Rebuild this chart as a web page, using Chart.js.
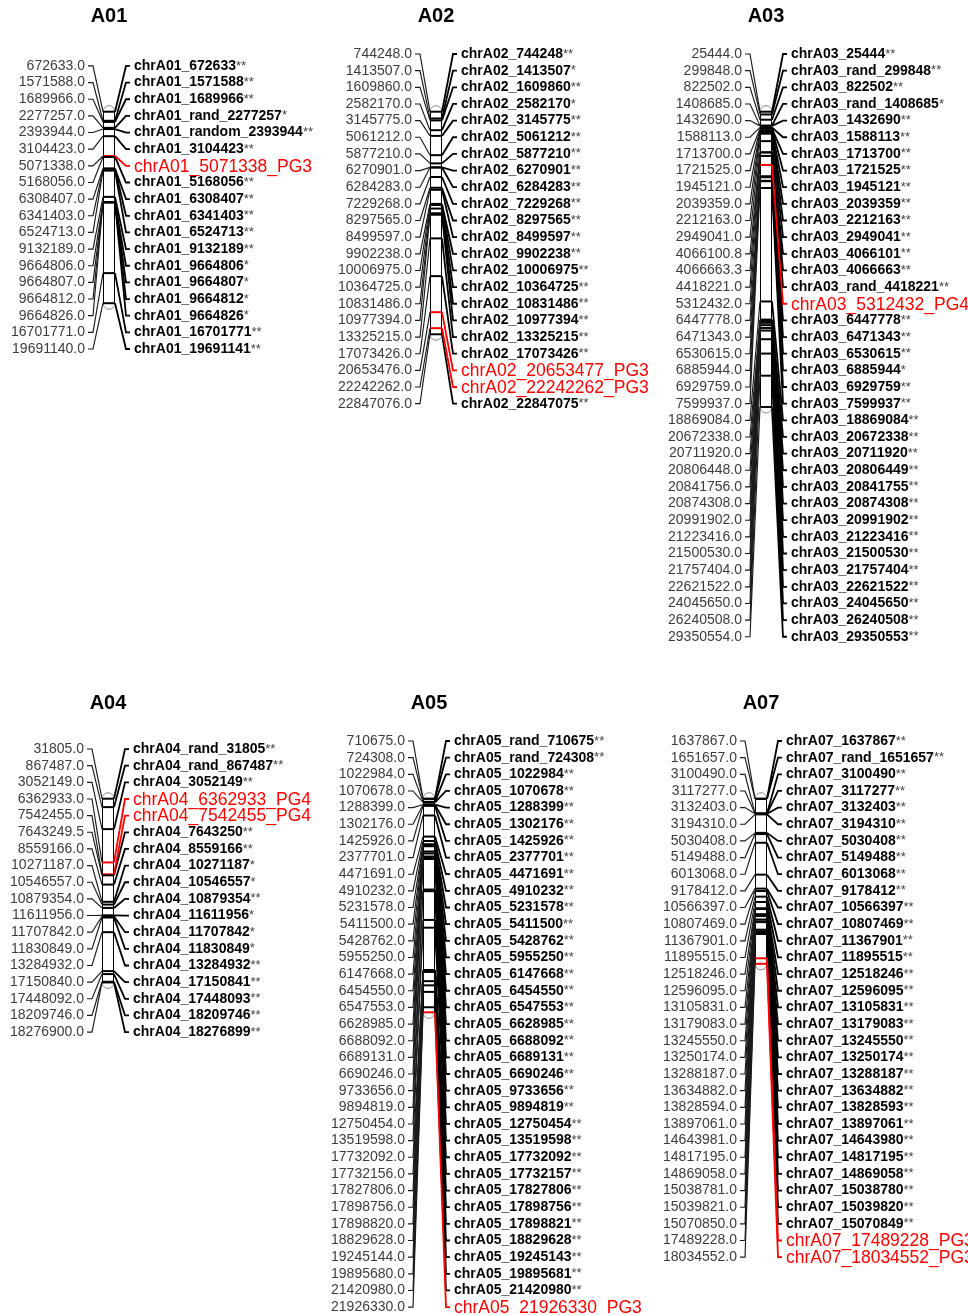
<!DOCTYPE html>
<html lang="en">
<head>
<meta charset="UTF-8">
<title>Linkage map A01 - A07</title>
<script src="https://cdn.jsdelivr.net/npm/chart.js@4"></script>
<style>
  html, body { margin: 0; padding: 0; background: #fff; }
  body { width: 968px; height: 1315px; position: relative; overflow: hidden; }
  canvas { position: absolute; }
</style>
</head>
<body>
<canvas id="cA01" width="330" height="687" style="left:-1px;top:0px"></canvas>
<canvas id="cA02" width="330" height="687" style="left:326px;top:0px"></canvas>
<canvas id="cA03" width="330" height="687" style="left:656px;top:0px"></canvas>
<canvas id="cA04" width="330" height="628" style="left:-2px;top:687px"></canvas>
<canvas id="cA05" width="330" height="628" style="left:319px;top:687px"></canvas>
<canvas id="cA07" width="330" height="628" style="left:651px;top:687px"></canvas>

<script>
// positions (left labels) and marker names (right labels)
const A01_pos = [672633.0, 1571588.0, 1689966.0, 2277257.0, 2393944.0, 3104423.0, 5071338.0, 5168056.0, 6308407.0, 6341403.0, 6524713.0, 9132189.0, 9664806.0, 9664807.0, 9664812.0, 9664826.0, 16701771.0, 19691140.0];
const A01_names = ['chrA01_672633**', 'chrA01_1571588**', 'chrA01_1689966**', 'chrA01_rand_2277257*', 'chrA01_random_2393944**', 'chrA01_3104423**', 'chrA01_5071338_PG3', 'chrA01_5168056**', 'chrA01_6308407**', 'chrA01_6341403**', 'chrA01_6524713**', 'chrA01_9132189**', 'chrA01_9664806*', 'chrA01_9664807*', 'chrA01_9664812*', 'chrA01_9664826*', 'chrA01_16701771**', 'chrA01_19691141**'];

const A02_pos = [744248.0, 1413507.0, 1609860.0, 2582170.0, 3145775.0, 5061212.0, 5877210.0, 6270901.0, 6284283.0, 7229268.0, 8297565.0, 8499597.0, 9902238.0, 10006975.0, 10364725.0, 10831486.0, 10977394.0, 13325215.0, 17073426.0, 20653476.0, 22242262.0, 22847076.0];
const A02_names = ['chrA02_744248**', 'chrA02_1413507*', 'chrA02_1609860**', 'chrA02_2582170*', 'chrA02_3145775**', 'chrA02_5061212**', 'chrA02_5877210**', 'chrA02_6270901**', 'chrA02_6284283**', 'chrA02_7229268**', 'chrA02_8297565**', 'chrA02_8499597**', 'chrA02_9902238**', 'chrA02_10006975**', 'chrA02_10364725**', 'chrA02_10831486**', 'chrA02_10977394**', 'chrA02_13325215**', 'chrA02_17073426**', 'chrA02_20653477_PG3', 'chrA02_22242262_PG3', 'chrA02_22847075**'];

const A03_pos = [25444.0, 299848.0, 822502.0, 1408685.0, 1432690.0, 1588113.0, 1713700.0, 1721525.0, 1945121.0, 2039359.0, 2212163.0, 2949041.0, 4066100.8, 4066663.3, 4418221.0, 5312432.0, 6447778.0, 6471343.0, 6530615.0, 6885944.0, 6929759.0, 7599937.0, 18869084.0, 20672338.0, 20711920.0, 20806448.0, 20841756.0, 20874308.0, 20991902.0, 21223416.0, 21500530.0, 21757404.0, 22621522.0, 24045650.0, 26240508.0, 29350554.0];
const A03_names = ['chrA03_25444**', 'chrA03_rand_299848**', 'chrA03_822502**', 'chrA03_rand_1408685*', 'chrA03_1432690**', 'chrA03_1588113**', 'chrA03_1713700**', 'chrA03_1721525**', 'chrA03_1945121**', 'chrA03_2039359**', 'chrA03_2212163**', 'chrA03_2949041**', 'chrA03_4066101**', 'chrA03_4066663**', 'chrA03_rand_4418221**', 'chrA03_5312432_PG4', 'chrA03_6447778**', 'chrA03_6471343**', 'chrA03_6530615**', 'chrA03_6885944*', 'chrA03_6929759**', 'chrA03_7599937**', 'chrA03_18869084**', 'chrA03_20672338**', 'chrA03_20711920**', 'chrA03_20806449**', 'chrA03_20841755**', 'chrA03_20874308**', 'chrA03_20991902**', 'chrA03_21223416**', 'chrA03_21500530**', 'chrA03_21757404**', 'chrA03_22621522**', 'chrA03_24045650**', 'chrA03_26240508**', 'chrA03_29350553**'];

const A04_pos = [31805.0, 867487.0, 3052149.0, 6362933.0, 7542455.0, 7643249.5, 8559166.0, 10271187.0, 10546557.0, 10879354.0, 11611956.0, 11707842.0, 11830849.0, 13284932.0, 17150840.0, 17448092.0, 18209746.0, 18276900.0];
const A04_names = ['chrA04_rand_31805**', 'chrA04_rand_867487**', 'chrA04_3052149**', 'chrA04_6362933_PG4', 'chrA04_7542455_PG4', 'chrA04_7643250**', 'chrA04_8559166**', 'chrA04_10271187*', 'chrA04_10546557*', 'chrA04_10879354**', 'chrA04_11611956*', 'chrA04_11707842*', 'chrA04_11830849*', 'chrA04_13284932**', 'chrA04_17150841**', 'chrA04_17448093**', 'chrA04_18209746**', 'chrA04_18276899**'];

const A05_pos = [710675.0, 724308.0, 1022984.0, 1070678.0, 1288399.0, 1302176.0, 1425926.0, 2377701.0, 4471691.0, 4910232.0, 5231578.0, 5411500.0, 5428762.0, 5955250.0, 6147668.0, 6454550.0, 6547553.0, 6628985.0, 6688092.0, 6689131.0, 6690246.0, 9733656.0, 9894819.0, 12750454.0, 13519598.0, 17732092.0, 17732156.0, 17827806.0, 17898756.0, 17898820.0, 18829628.0, 19245144.0, 19895680.0, 21420980.0, 21926330.0];
const A05_names = ['chrA05_rand_710675**', 'chrA05_rand_724308**', 'chrA05_1022984**', 'chrA05_1070678**', 'chrA05_1288399**', 'chrA05_1302176**', 'chrA05_1425926**', 'chrA05_2377701**', 'chrA05_4471691**', 'chrA05_4910232**', 'chrA05_5231578**', 'chrA05_5411500**', 'chrA05_5428762**', 'chrA05_5955250**', 'chrA05_6147668**', 'chrA05_6454550**', 'chrA05_6547553**', 'chrA05_6628985**', 'chrA05_6688092**', 'chrA05_6689131**', 'chrA05_6690246**', 'chrA05_9733656**', 'chrA05_9894819**', 'chrA05_12750454**', 'chrA05_13519598**', 'chrA05_17732092**', 'chrA05_17732157**', 'chrA05_17827806**', 'chrA05_17898756**', 'chrA05_17898821**', 'chrA05_18829628**', 'chrA05_19245143**', 'chrA05_19895681**', 'chrA05_21420980**', 'chrA05_21926330_PG3'];

const A07_pos = [1637867.0, 1651657.0, 3100490.0, 3117277.0, 3132403.0, 3194310.0, 5030408.0, 5149488.0, 6013068.0, 9178412.0, 10566397.0, 10807469.0, 11367901.0, 11895515.0, 12518246.0, 12596095.0, 13105831.0, 13179083.0, 13245550.0, 13250174.0, 13288187.0, 13634882.0, 13828594.0, 13897061.0, 14643981.0, 14817195.0, 14869058.0, 15038781.0, 15039821.0, 15070850.0, 17489228.0, 18034552.0];
const A07_names = ['chrA07_1637867**', 'chrA07_rand_1651657**', 'chrA07_3100490**', 'chrA07_3117277**', 'chrA07_3132403**', 'chrA07_3194310**', 'chrA07_5030408**', 'chrA07_5149488**', 'chrA07_6013068**', 'chrA07_9178412**', 'chrA07_10566397**', 'chrA07_10807469**', 'chrA07_11367901**', 'chrA07_11895515**', 'chrA07_12518246**', 'chrA07_12596095**', 'chrA07_13105831**', 'chrA07_13179083**', 'chrA07_13245550**', 'chrA07_13250174**', 'chrA07_13288187**', 'chrA07_13634882**', 'chrA07_13828593**', 'chrA07_13897061**', 'chrA07_14643980**', 'chrA07_14817195**', 'chrA07_14869058**', 'chrA07_15038780**', 'chrA07_15039820**', 'chrA07_15070849**', 'chrA07_17489228_PG3', 'chrA07_18034552_PG3'];

const FONT = '"Liberation Sans", Arial, sans-serif';
const RED = '#ff0000';
const PX_PER_MB = 10.07;   // map scale
const BAR_TOP = 111.7;     // first marker, px below panel top
const LABEL_STEP = 16.65;  // label spacing
const LABEL_TOP = 54;      // highest label
const HALF_BAR = 6;

const isPG = name => /_PG\d$/.test(name);

const mapPlugin = {
  id: 'linkageMap',
  beforeDatasetsDraw(chart) {
    const { ctx, scales: { x, y } } = chart;
    const pos = chart.options.plugins.linkageMap.pos;
    const cx = x.getPixelForValue(0);
    const l = x.getPixelForValue(-HALF_BAR), r = x.getPixelForValue(HALF_BAR);
    const top = y.getPixelForValue(pos[0]), bot = y.getPixelForValue(pos[pos.length - 1]);
    ctx.save();
    ctx.fillStyle = '#fff';
    ctx.strokeStyle = '#8a8a8a';
    ctx.lineWidth = 1;
    ctx.beginPath(); ctx.ellipse(cx, top, r - cx, 6, 0, Math.PI, 2 * Math.PI); ctx.fill(); ctx.stroke();
    ctx.beginPath(); ctx.ellipse(cx, bot, r - cx, 6, 0, 0, Math.PI); ctx.fill(); ctx.stroke();
    ctx.fillRect(l, top, r - l, bot - top);
    ctx.strokeStyle = '#000';
    ctx.beginPath();
    ctx.moveTo(l + 0.5, top); ctx.lineTo(l + 0.5, bot);
    ctx.moveTo(r - 0.5, top); ctx.lineTo(r - 0.5, bot);
    ctx.stroke();
    ctx.restore();
  },
  afterDatasetsDraw(chart) {
    const { ctx, scales: { x, y, slot } } = chart;
    const { pos, names, title } = chart.options.plugins.linkageMap;
    const n = pos.length;
    const mid = y.getPixelForValue((pos[0] + pos[n - 1]) / 2);
    const start = Math.max(slot.getValueForPixel(LABEL_TOP), slot.getValueForPixel(mid) - (n - 1) / 2);
    const ly = i => slot.getPixelForValue(start + i);
    const my = i => y.getPixelForValue(pos[i]);

    ctx.save();
    // left connectors
    ctx.strokeStyle = '#1a1a1a';
    ctx.lineWidth = 1.15;
    for (let i = 0; i < n; i++) {
      ctx.beginPath();
      ctx.moveTo(x.getPixelForValue(-21), ly(i));
      ctx.lineTo(x.getPixelForValue(-16), ly(i));
      ctx.lineTo(x.getPixelForValue(-HALF_BAR), my(i));
      ctx.stroke();
    }
    // right connectors, red ones last
    ctx.lineWidth = 1.8;
    const order = [...names.keys()].sort((a, b) => isPG(names[a]) - isPG(names[b]));
    for (const i of order) {
      ctx.strokeStyle = isPG(names[i]) ? RED : '#000';
      ctx.beginPath();
      ctx.moveTo(x.getPixelForValue(HALF_BAR), my(i));
      ctx.lineTo(x.getPixelForValue(17), ly(i));
      ctx.lineTo(x.getPixelForValue(21), ly(i));
      ctx.stroke();
    }

    // labels
    ctx.textBaseline = 'middle';
    for (let i = 0; i < n; i++) {
      ctx.textAlign = 'right';
      ctx.font = '14px ' + FONT;
      ctx.fillStyle = '#3c3c3c';
      ctx.fillText(pos[i].toFixed(1), x.getPixelForValue(-24), ly(i));

      ctx.textAlign = 'left';
      const tx = x.getPixelForValue(25);
      if (isPG(names[i])) {
        ctx.font = '17.5px ' + FONT;
        ctx.fillStyle = RED;
        ctx.fillText(names[i], tx, ly(i) + 1);
      } else {
        const stars = names[i].match(/\*+$/)[0];
        const base = names[i].slice(0, -stars.length);
        ctx.font = 'bold 14px ' + FONT;
        ctx.fillStyle = '#000';
        ctx.fillText(base, tx, ly(i));
        const w = ctx.measureText(base).width;
        ctx.font = '13px ' + FONT;
        ctx.fillStyle = '#444';
        ctx.fillText(stars, tx + w, ly(i));
      }
    }

    // chromosome title
    ctx.textAlign = 'center';
    ctx.font = 'bold 20px ' + FONT;
    ctx.fillStyle = '#000';
    ctx.fillText(title, x.getPixelForValue(0), 16);
    ctx.restore();
  }
};

function drawMap(id, pos, names) {
  const canvas = document.getElementById('c' + id);
  const h = canvas.height;
  const yMin = pos[0] - BAR_TOP / PX_PER_MB * 1e6;
  new Chart(canvas, {
    type: 'scatter',
    data: {
      datasets: [{
        data: pos.map(p => ({ x: 0, y: p })),
        pointStyle: 'line',
        pointRadius: HALF_BAR,
        pointBorderWidth: 2,
        pointBorderColor: names.map(nm => isPG(nm) ? RED : '#000'),
        showLine: false
      }]
    },
    options: {
      responsive: false,
      animation: false,
      events: [],
      layout: { padding: 0, autoPadding: false },
      plugins: {
        legend: { display: false },
        tooltip: { enabled: false },
        linkageMap: { pos, names, title: id }
      },
      scales: {
        x: { type: 'linear', display: false, min: -110, max: canvas.width - 110 },
        y: { type: 'linear', display: false, reverse: true, min: yMin, max: yMin + h / PX_PER_MB * 1e6 },
        slot: { type: 'linear', axis: 'y', display: false, reverse: true, min: 0, max: h / LABEL_STEP }
      }
    },
    plugins: [mapPlugin]
  });
}

drawMap('A01', A01_pos, A01_names);
drawMap('A02', A02_pos, A02_names);
drawMap('A03', A03_pos, A03_names);
drawMap('A04', A04_pos, A04_names);
drawMap('A05', A05_pos, A05_names);
drawMap('A07', A07_pos, A07_names);
</script>
</body>
</html>
